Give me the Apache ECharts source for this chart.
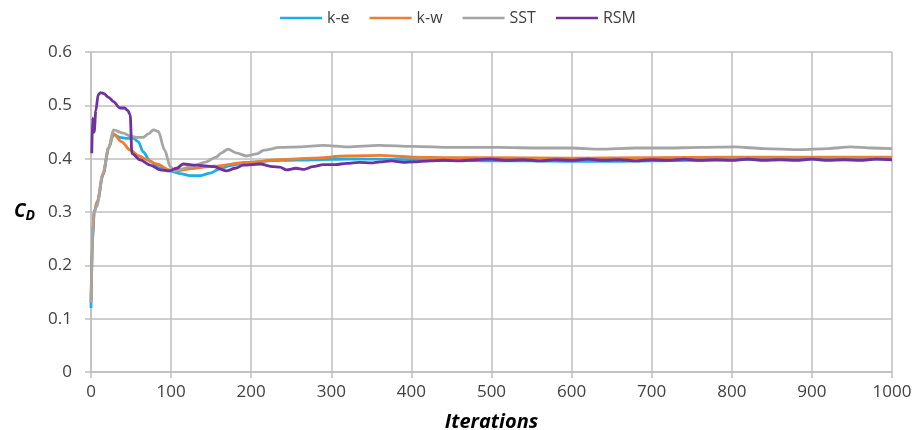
<!DOCTYPE html>
<html>
<head>
<meta charset="utf-8">
<script src="https://cdn.jsdelivr.net/npm/echarts@6/dist/echarts.min.js"></script>
<style>
  html, body { margin: 0; padding: 0; background: #fff; }
  #chart { width: 916px; height: 430px; }
</style>
</head>
<body>
<div id="chart"></div>
<script>
// k-e
const keIter = [0, 2, 4, 8, 15, 22, 28, 36, 45, 53, 59, 65, 74, 86, 98, 111, 124, 136, 149, 161, 174, 194, 236, 280, 320, 360, 400, 450, 500, 550, 600, 650, 700, 750, 800, 850, 900, 950, 1000];
const keVal = [0.12, 0.25, 0.30, 0.32, 0.37, 0.42, 0.445, 0.44, 0.438, 0.438, 0.432, 0.413, 0.395, 0.382, 0.377, 0.372, 0.368, 0.368, 0.373, 0.381, 0.387, 0.393, 0.397, 0.398, 0.399, 0.399, 0.398, 0.397, 0.396, 0.396, 0.395, 0.395, 0.396, 0.397, 0.398, 0.399, 0.399, 0.399, 0.399];

// k-w
const kwIter = [0, 2, 4, 8, 15, 22, 28, 38, 49, 60, 70, 82, 98, 107, 124, 153, 194, 236, 277, 319, 361, 402, 450, 500, 600, 700, 800, 900, 1000];
const kwVal = [0.13, 0.26, 0.30, 0.32, 0.37, 0.42, 0.447, 0.432, 0.416, 0.405, 0.398, 0.39, 0.379, 0.377, 0.381, 0.386, 0.393, 0.398, 0.401, 0.405, 0.406, 0.403, 0.402, 0.402, 0.401, 0.402, 0.403, 0.403, 0.403];

// SST
const sstIter = [0, 3, 7, 15, 22, 28, 40, 50, 57, 65, 72, 78, 84, 92, 99, 104, 114, 124, 144, 156, 163, 171, 181, 194, 207, 216, 236, 260, 290, 320, 360, 402, 450, 510, 560, 600, 635, 680, 720, 760, 803, 840, 885, 920, 948, 975, 1000];
const sstVal = [0.13, 0.298, 0.31, 0.373, 0.42, 0.454, 0.448, 0.442, 0.44, 0.44, 0.447, 0.454, 0.451, 0.416, 0.385, 0.377, 0.381, 0.385, 0.394, 0.403, 0.411, 0.418, 0.411, 0.405, 0.409, 0.416, 0.421, 0.422, 0.425, 0.422, 0.425, 0.423, 0.421, 0.421, 0.42, 0.42, 0.418, 0.42, 0.42, 0.421, 0.422, 0.419, 0.417, 0.419, 0.422, 0.42, 0.419];

// RSM
const rsmIter = [1, 2, 4, 6, 9, 12, 16, 22, 28, 36, 42, 46, 49, 51, 61, 74, 86, 98, 107, 115, 132, 153, 169, 180, 190, 211, 227, 236, 244, 256, 266, 277, 290, 305, 319, 335, 350, 361, 375, 390, 402, 423, 440, 460, 480, 500, 520, 540, 560, 580, 600, 620, 640, 660, 680, 700, 720, 740, 760, 780, 800, 820, 840, 860, 880, 900, 920, 940, 960, 980, 1000];
const rsmVal = [0.41, 0.476, 0.45, 0.49, 0.52, 0.524, 0.522, 0.515, 0.507, 0.495, 0.495, 0.49, 0.482, 0.41, 0.398, 0.388, 0.379, 0.377, 0.382, 0.39, 0.388, 0.385, 0.377, 0.382, 0.388, 0.39, 0.385, 0.384, 0.379, 0.382, 0.38, 0.385, 0.389, 0.389, 0.391, 0.393, 0.392, 0.394, 0.396, 0.393, 0.394, 0.396, 0.397, 0.396, 0.398, 0.399, 0.397, 0.398, 0.396, 0.398, 0.397, 0.399, 0.397, 0.398, 0.396, 0.398, 0.397, 0.399, 0.397, 0.398, 0.397, 0.399, 0.397, 0.398, 0.397, 0.399, 0.397, 0.398, 0.397, 0.399, 0.398];

const xTicks = [0, 100, 200, 300, 400, 500, 600, 700, 800, 900, 1000];
const yTicks = [0, 0.1, 0.2, 0.3, 0.4, 0.5, 0.6];

const pairs = (xs, ys) => xs.map((x, i) => [x, ys[i]]);

const font = '"Open Sans", "Noto Sans", sans-serif';
const gridColor = '#BFBFBF';

const chart = echarts.init(document.getElementById('chart'));

const mkSeries = (name, xs, ys, color) => ({
  name,
  type: 'line',
  data: pairs(xs, ys),
  showSymbol: false,
  symbol: 'none',
  smooth: 0.3,
  smoothMonotone: 'x',
  lineStyle: { color, width: 2.8 },
  itemStyle: { color },
  animation: false
});

chart.setOption({
  backgroundColor: '#fff',
  animation: false,
  legend: {
    top: 5,
    left: 'center',
    icon: 'rect',
    itemWidth: 42,
    itemHeight: 2.5,
    itemGap: 20,
    textStyle: { fontFamily: font, fontSize: 16, color: '#404040' },
    data: ['k-e', 'k-w', 'SST', 'RSM']
  },
  grid: { left: 91, right: 24, top: 52, bottom: 58, containLabel: false, outerBoundsMode: 'none' },
  xAxis: {
    type: 'value',
    min: xTicks[0],
    max: xTicks[xTicks.length - 1],
    interval: 100,
    name: 'Iterations',
    nameLocation: 'middle',
    nameGap: 40,
    nameTextStyle: { fontFamily: font, fontSize: 20, fontWeight: 'bold', fontStyle: 'italic', color: '#000' },
    axisLine: { show: true, lineStyle: { color: gridColor, width: 1.5 } },
    axisTick: { show: true, length: 6, lineStyle: { color: gridColor, width: 1.5 } },
    axisLabel: { fontFamily: font, fontSize: 17, color: '#404040', margin: 12, formatter: v => String(v) },
    splitLine: { show: true, lineStyle: { color: gridColor, width: 1.5 } }
  },
  yAxis: {
    type: 'value',
    min: yTicks[0],
    max: yTicks[yTicks.length - 1],
    interval: 0.1,
    name: '{c|C}{d|D}',
    nameLocation: 'middle',
    nameRotate: 0,
    nameGap: 56,
    nameTextStyle: {
      rich: {
        c: { fontFamily: font, fontSize: 19, fontWeight: 'bold', fontStyle: 'italic', color: '#000' },
        d: { fontFamily: font, fontSize: 14, fontWeight: 'bold', fontStyle: 'italic', color: '#000', padding: [9, 0, 0, 0] }
      }
    },
    axisLine: { show: true, lineStyle: { color: gridColor, width: 1.5 } },
    axisTick: { show: true, length: 6, lineStyle: { color: gridColor, width: 1.5 } },
    axisLabel: { fontFamily: font, fontSize: 17, color: '#404040', margin: 19, formatter: v => String(Math.round(v * 10) / 10) },
    splitLine: { show: true, lineStyle: { color: gridColor, width: 1.5 } }
  },
  series: [
    mkSeries('k-e', keIter, keVal, '#1CAEE8'),
    mkSeries('k-w', kwIter, kwVal, '#ED7D31'),
    mkSeries('SST', sstIter, sstVal, '#A5A5A5'),
    mkSeries('RSM', rsmIter, rsmVal, '#7030A0')
  ]
});
</script>
</body>
</html>
